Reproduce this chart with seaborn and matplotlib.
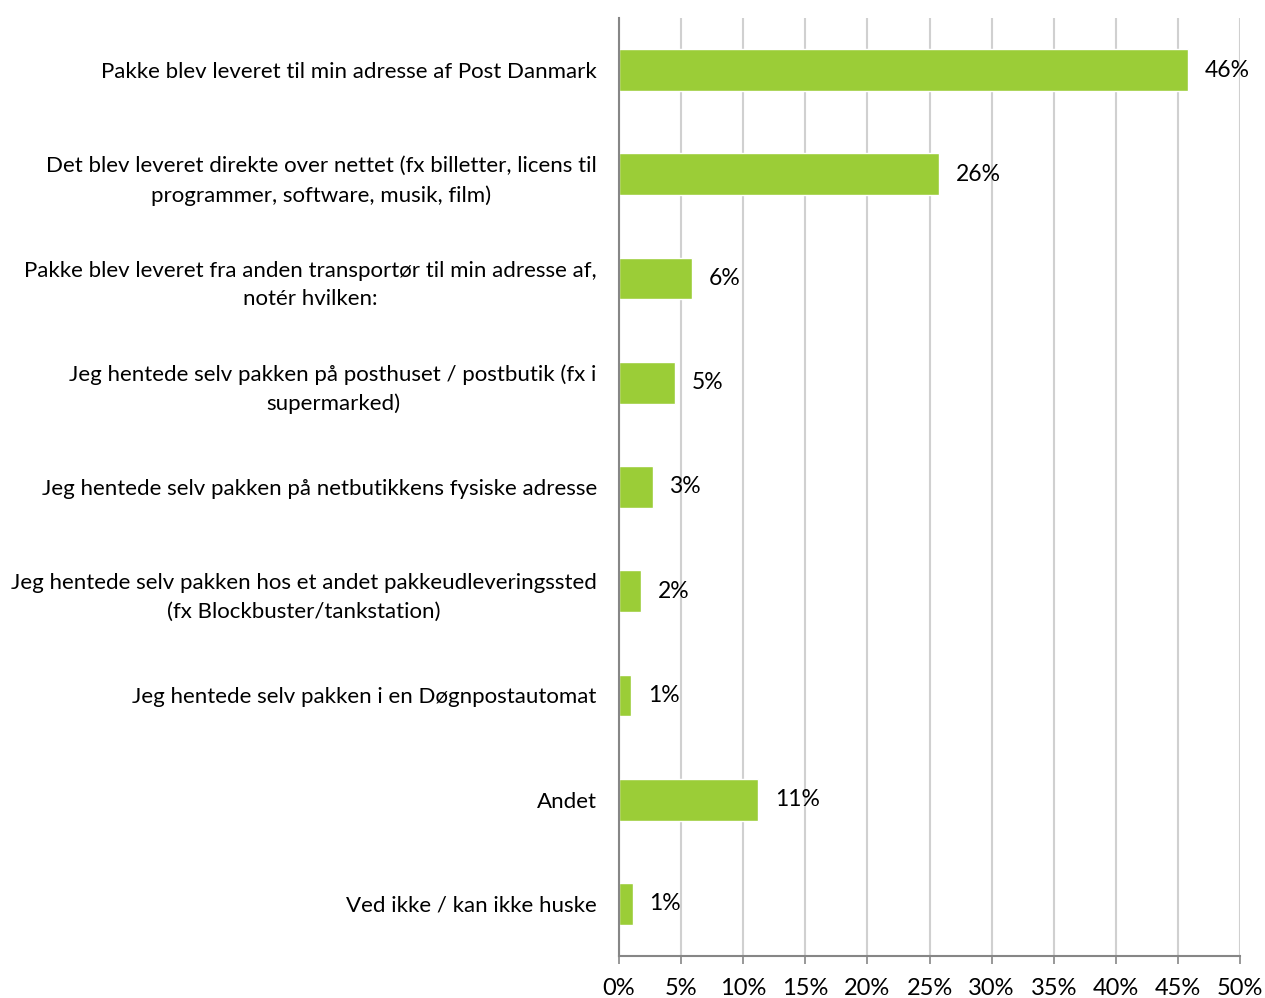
import numpy as np
import pandas as pd
import matplotlib
matplotlib.use("Agg")
import matplotlib.pyplot as plt
import seaborn as sns

categories = [
    "Pakke blev leveret til min adresse af Post Danmark",
    "Det blev leveret direkte over nettet (fx billetter, licens til\nprogrammer, software, musik, film)",
    "Pakke blev leveret fra anden transportør til min adresse af,\nnotér hvilken:",
    "Jeg hentede selv pakken på posthuset / postbutik (fx i\nsupermarked)",
    "Jeg hentede selv pakken på netbutikkens fysiske adresse",
    "Jeg hentede selv pakken hos et andet pakkeudleveringssted\n(fx Blockbuster/tankstation)",
    "Jeg hentede selv pakken i en Døgnpostautomat",
    "Andet",
    "Ved ikke / kan ikke huske",
]
values = [45.8, 25.8, 5.9, 4.5, 2.7, 1.8, 1.0, 11.2, 1.1]
pct_labels = ["46%", "26%", "6%", "5%", "3%", "2%", "1%", "11%", "1%"]
xticks = [0, 5, 10, 15, 20, 25, 30, 35, 40, 45, 50]

df = pd.DataFrame({"kategori": categories, "andel": values})

sns.set_style("white")
plt.rcParams["font.family"] = ["Lato", "DejaVu Sans"]
plt.rcParams["text.color"] = "black"
plt.rcParams["xtick.labelcolor"] = "black"
plt.rcParams["ytick.labelcolor"] = "black"

fig = plt.figure(figsize=(12.65, 9.98), dpi=100)
ax = fig.add_axes([619 / 1265, 1 - 956 / 998, (1240 - 619) / 1265, (956 - 18) / 998])

sns.barplot(data=df, x="andel", y="kategori", color="#9BCD37", width=0.4,
            saturation=1, ax=ax, zorder=3)

ax.set_xlim(0, 50)
ax.set_ylim(len(categories) - 0.5, -0.5)
ax.set_xticks(xticks)
ax.set_xticklabels([f"{t}%" for t in xticks], fontsize=17)
ax.xaxis.grid(True, color="#D0D0D0", linewidth=1.5, zorder=0)
ax.set_xlabel("")
ax.set_ylabel("")

# tick marks between categories, labels at the bars
ax.set_yticks(np.arange(len(categories) + 1) - 0.5, minor=True)
ax.tick_params(axis="y", which="major", length=0, pad=16, labelsize=16)
ax.tick_params(axis="y", which="minor", length=6, width=1.2, color="#868686", direction="out")
ax.tick_params(axis="x", which="major", length=6, width=1.2, color="#868686",
               direction="out", pad=10, bottom=True)
for lab in ax.get_yticklabels():
    lab.set_multialignment("center")
    lab.set_linespacing(1.55)

for side in ["top", "right"]:
    ax.spines[side].set_visible(False)
for side in ["left", "bottom"]:
    ax.spines[side].set_color("#868686")
    ax.spines[side].set_linewidth(1.5)
    ax.spines[side].set_zorder(4)

ax.bar_label(ax.containers[0], labels=pct_labels, padding=12, fontsize=16.5,
             color="black")

fig.savefig("out.png", dpi=100)
